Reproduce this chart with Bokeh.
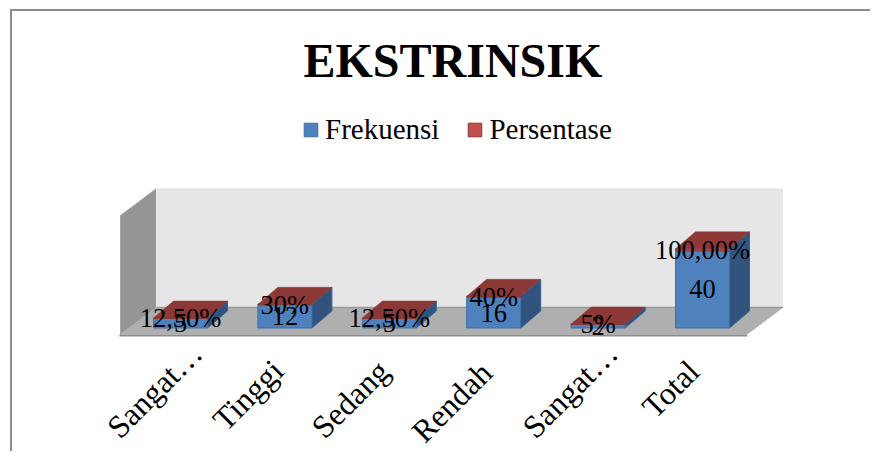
from math import pi
from bokeh.plotting import figure
from bokeh.models import Range1d, Legend, LegendItem
from bokeh.core.properties import value
from bokeh.embed import file_html
from bokeh.resources import INLINE

categories = ["Sangat…", "Tinggi", "Sedang", "Rendah", "Sangat…", "Total"]
frekuensi = [5, 12, 5, 16, 2, 40]
persentase = [0.125, 0.30, 0.125, 0.40, 0.05, 1.0]
frek_labels = ["5", "12", "5", "16", "2", "40"]
pers_labels = ["12,50%", "30%", "12,50%", "40%", "5%", "100,00%"]
title_text = "EKSTRINSIK"

SERIF = "Liberation Serif"
# layout: pixels of the photographed picture
BORDER = 2
FIG_L, FIG_T = 12, 11        # canvas corner, inside the css border
FIG_W, FIG_H = 860, 442
FRAME_T, FRAME_B = 93, 453
CAT_PX, CAT0_PX = 104.4, 180.0
UNIT_PX, ZERO_PX = 1.93, 327.5
BAR_W = 54 / CAT_PX
DX, DY = 20 / CAT_PX, 17 / UNIT_PX
# placement of the slanted category labels, from the bar's centre and the floor
LABEL_DX = [-26, -37, -39, -42, -28, -32]
LABEL_DY = [62, 67, 71, 74, 62, 61]

def X(px):
    return (px - CAT0_PX) / CAT_PX

def Y(px):
    return (ZERO_PX - px) / UNIT_PX

p = figure(width=FIG_W, height=FIG_H, output_backend="svg", toolbar_location=None,
           x_range=Range1d(X(FIG_L), X(FIG_L + FIG_W)), y_range=Range1d(Y(FRAME_B), Y(FRAME_T)),
           x_axis_location=None, y_axis_location=None, min_border_left=0, min_border_right=0,
           min_border_top=FRAME_T - FIG_T, min_border_bottom=0,
           margin=(FIG_T - BORDER, 0, 0, FIG_L - BORDER), outline_line_color=None)
p.styles = {"border-top": f"{BORDER}px solid #8c8c8c", "border-left": f"{BORDER}px solid #8c8c8c"}
p.grid.visible = False

p.title.text = title_text
p.title.text_font = SERIF
p.title.text_font_style = "bold"
p.title.text_font_size = "48px"
p.title.text_color = "#000000"
p.title.align = "left"
p.title.offset = 303 - FIG_L
p.title.standoff = 14

# walls and floor
p.patch([X(v) for v in (120, 120, 156, 156)], [Y(v) for v in (334, 215, 188, 307)], fill_color="#959595", line_color="#a6a6a6")
p.patch([X(v) for v in (156, 782, 782, 156)], [Y(v) for v in (188, 188, 307, 307)], fill_color="#e6e6e6", line_color="#ececec")
p.patch([X(v) for v in (119, 156, 782.7, 746.7)], [Y(v) for v in (334, 307, 307, 334)], fill_color="#afafaf", line_color=None)
p.line([X(156), X(782.7)], [Y(307), Y(307)], line_color="#999999", line_width=1.5)
p.line([X(119), X(746.7)], [Y(335), Y(335)], line_color="#8c8c8c", line_width=2)

idx = list(range(len(categories)))
lefts = [i - BAR_W / 2 for i in idx]
rights = [i + BAR_W / 2 for i in idx]
tops = [f + q for f, q in zip(frekuensi, persentase)]

side_xs = [[r, r + DX, r + DX, r] for r in rights]
side_ys = [[0, DY, t + DY, t] for t in tops]
p.patches(side_xs, side_ys, fill_color="#31547f", line_color="#3a6190", line_width=1)

blue = p.quad(left=lefts, right=rights, bottom=[0] * 6, top=frekuensi,
              fill_color="#4f81bd", line_color="#3f6fa8", line_width=1)
red = p.quad(left=lefts, right=rights, bottom=frekuensi, top=tops,
             fill_color="#c0504d", line_color="#8c3836", line_width=1)

top_xs = [[l, r, r + DX, l + DX] for l, r in zip(lefts, rights)]
top_ys = [[t, t, t + DY, t + DY] for t in tops]
p.patches(top_xs, top_ys, fill_color="#8c3836", line_color="#8c3836", line_width=0.5)

p.text(idx, [f / 2 for f in frekuensi], text=frek_labels, text_font=value(SERIF),
       text_font_size="26.5px", text_align="center", text_baseline="middle", text_color="#000000")
p.text(idx, [f + q / 2 for f, q in zip(frekuensi, persentase)], text=pers_labels, text_font=value(SERIF),
       text_font_size="26.5px", text_align="center", text_baseline="middle", text_color="#000000")

# category labels, each placed from its own category through the scales
p.text(idx, [0] * 6, text=categories, x_offset=LABEL_DX, y_offset=LABEL_DY, angle=pi / 4,
       text_font=value(SERIF), text_font_size="32px", text_align="center", text_baseline="middle",
       text_color="#000000")

legend = Legend(items=[LegendItem(label="Frekuensi", renderers=[blue]), LegendItem(label="Persentase", renderers=[red])],
                orientation="horizontal", location=(302 - FIG_L, FRAME_B - 146),
                glyph_width=17, glyph_height=17, label_standoff=6, spacing=27, padding=0, margin=0,
                background_fill_alpha=0, border_line_color=None,
                label_text_font=SERIF, label_text_font_size="29px", label_text_color="#000000")
p.add_layout(legend, "center")

open("out.html", "w").write(file_html(p, INLINE))
